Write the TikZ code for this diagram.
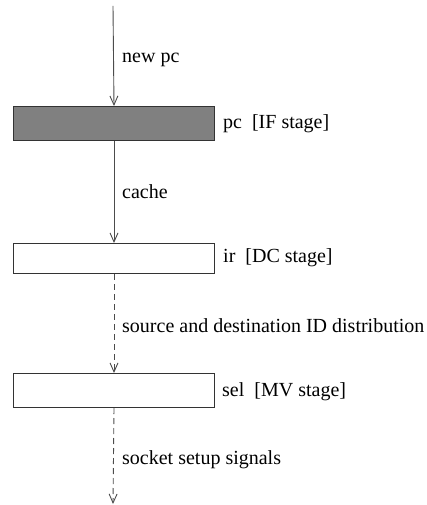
\documentclass[tikz,border=0pt]{standalone}
\usepackage{fontspec}
\setmainfont{Liberation Serif}
\usetikzlibrary{arrows.meta}
\begin{document}
\begin{tikzpicture}[x=1pt,y=-1pt,
  stagebox/.style={draw=black!80,line width=1pt,minimum width=201pt,minimum height=34pt,inner sep=0pt,anchor=north west},
  lbl/.style={anchor=west,inner sep=0pt,font=\fontsize{20}{24}\selectfont},
  flow/.style={draw=black!70,line width=0.9pt,-{Straight Barb[length=9pt,width=8pt]}},
  dflow/.style={flow,dash pattern=on 6pt off 4pt}]
\useasboundingbox (0,0) rectangle (427,505);
\coordinate (src) at (113,6);
\node[stagebox,fill=black!50] (pc) at (13,106) {};
\node[stagebox,minimum height=30pt] (ir) at (13,243) {};
\node[stagebox] (sel) at (13,373) {};
\coordinate (out) at (113,504);
\draw[flow] (src) -- (pc.north);
\draw[flow] (pc.south) -- (ir.north);
\draw[dflow] (ir.south) -- (sel.north);
\draw[dflow] (sel.south) -- (out);
\node[lbl] (t1) at (122,60) {new pc};
\node[lbl] (t2) at (223,124) {pc\ \ [IF stage]};
\node[lbl] (t3) at (122,192) {cache};
\node[lbl] (t4) at (223,258) {ir\ \ [DC stage]};
\node[lbl] (t5) at (122,326) {source and destination ID distribution};
\node[lbl] (t6) at (222,392) {sel\ \ [MV stage]};
\node[lbl] (t7) at (122,460) {socket setup signals};
\end{tikzpicture}
\end{document}
